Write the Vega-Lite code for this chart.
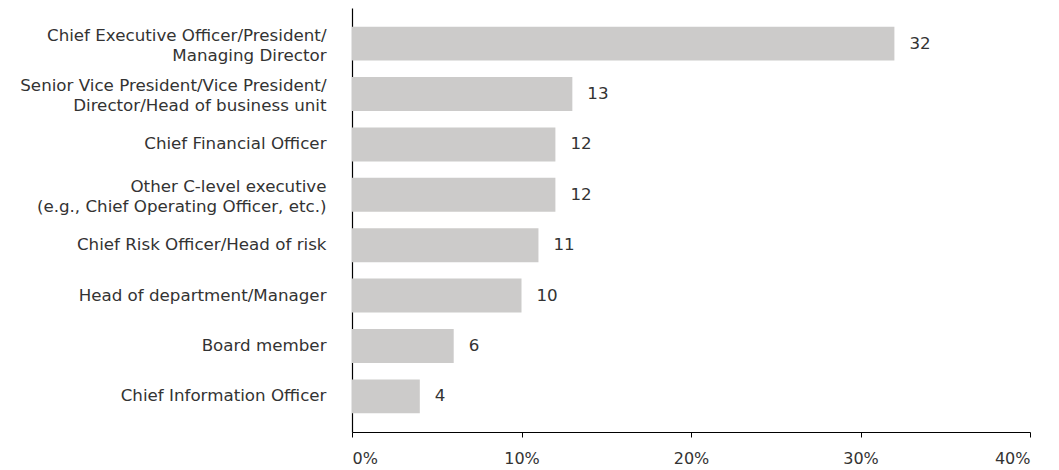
{
  "$schema": "https://vega.github.io/schema/vega-lite/v6.json",
  "width": 678,
  "height": 424,
  "autosize": {"type": "none"},
  "padding": {"left": 352, "top": 8, "right": 29, "bottom": 38},
  "background": "white",
  "config": {"view": {"stroke": null}, "font": "DejaVu Sans"},
  "data": {"values": [
    {"role": "Chief Executive Officer/President/|Managing Director", "value": 32},
    {"role": "Senior Vice President/Vice President/|Director/Head of business unit", "value": 13},
    {"role": "Chief Financial Officer", "value": 12},
    {"role": "Other C-level executive|(e.g., Chief Operating Officer, etc.)", "value": 12},
    {"role": "Chief Risk Officer/Head of risk", "value": 11},
    {"role": "Head of department/Manager", "value": 10},
    {"role": "Board member", "value": 6},
    {"role": "Chief Information Officer", "value": 4}
  ]},
  "encoding": {
    "y": {"field": "role", "type": "nominal", "sort": null,
      "scale": {"paddingInner": 0.326, "paddingOuter": 0.37},
      "axis": {"title": null, "ticks": false, "domainColor": "#000", "domainWidth": 1.2,
        "labelExpr": "split(datum.label, '|')", "labelLineHeight": 20,
        "labelOffset": {"condition": {"test": "indexof(datum.value, '|') >= 0", "value": -8}, "value": 0},
        "labelFontSize": 16.7, "labelColor": "#333333", "labelPadding": 26, "labelLimit": 400}},
    "x": {"field": "value", "type": "quantitative",
      "scale": {"domain": [0, 40], "nice": false},
      "axis": {"title": null, "values": [0, 10, 20, 30, 40], "labelExpr": "datum.value + '%'",
        "grid": false, "tickSize": 5, "tickColor": "#000", "domainColor": "#000", "domainWidth": 1.2,
        "labelFontSize": 16, "labelColor": "#333333", "labelPadding": 13}}
  },
  "layer": [
    {"mark": {"type": "bar", "color": "#cccbca"}},
    {"mark": {"type": "text", "align": "left", "dx": 15, "fontSize": 16.7, "color": "#333333"},
     "encoding": {"text": {"field": "value", "type": "quantitative"}}}
  ]
}
